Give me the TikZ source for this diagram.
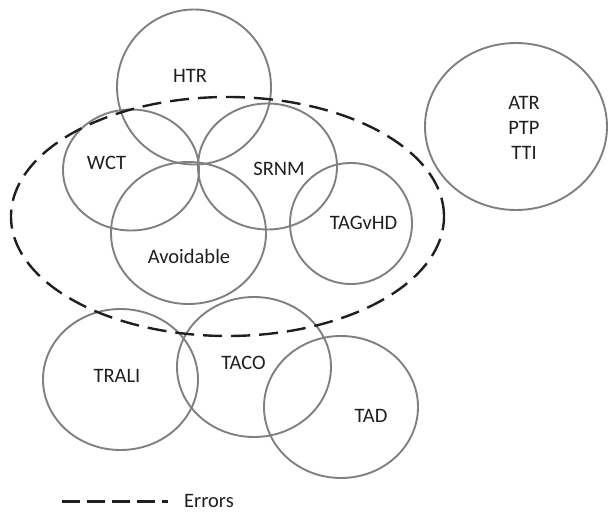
\documentclass[tikz,border=0pt]{standalone}
\usepackage{fontspec}
\setmainfont{Carlito}
\begin{document}
\begin{tikzpicture}[x=1pt,y=-1pt,
  setc/.style={draw=black!50, line width=1.9pt},
  errc/.style={draw=black!88, line width=2.4pt, dash pattern=on 19pt off 9pt},
  lbl/.style={font=\fontsize{20.5}{25}\selectfont, text=black!88, inner sep=0pt}]
\useasboundingbox (0,0) rectangle (608,513);
% sets
\draw[setc] (194,87) ellipse [x radius=77pt, y radius=77.5pt];
\draw[setc] (131,170) ellipse [x radius=68pt, y radius=60.5pt];
\draw[setc] (267.5,166.5) ellipse [x radius=69.5pt, y radius=63pt];
\draw[setc] (188.5,233) ellipse [x radius=77.5pt, y radius=71pt];
\draw[setc] (351,223.5) ellipse [x radius=61pt, y radius=60.5pt];
\draw[setc] (516,126.5) ellipse [x radius=91pt, y radius=83.5pt];
\draw[setc] (120.5,379.5) ellipse [x radius=77.5pt, y radius=70.5pt];
\draw[setc] (254,367) ellipse [x radius=77pt, y radius=70pt];
\draw[setc] (341,407) ellipse [x radius=77pt, y radius=71pt];
% errors
\draw[errc] (227.5,216.5) ellipse [x radius=216.5pt, y radius=119.5pt];
% labels
\node[lbl] (htr) at (190,76) {HTR};
\node[lbl] (wct) at (106.5,163) {WCT};
\node[lbl] (srnm) at (279,169) {SRNM};
\node[lbl] (avoid) at (189,256) {Avoidable};
\node[lbl] (tag) at (363.5,223) {TAGvHD};
\node[lbl, align=center] (atr) at (524,128) {ATR\\PTP\\TTI};
\node[lbl] (trali) at (117,376) {TRALI};
\node[lbl] (taco) at (243.5,363) {TACO};
\node[lbl] (tad) at (371,416) {TAD};
% legend
\coordinate (la) at (62,501.5);
\coordinate (lb) at (168,501.5);
\draw[errc, dash pattern=on 18pt off 7pt] (la) -- (lb);
\node[lbl, anchor=base west] (err) at (184,507.5) {Errors};
\end{tikzpicture}
\end{document}
